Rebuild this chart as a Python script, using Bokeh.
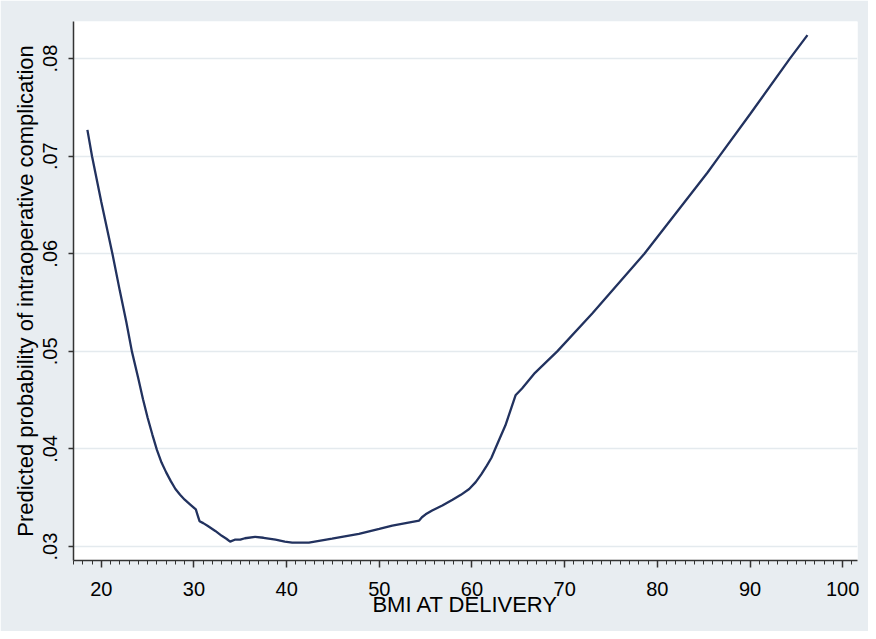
from bokeh.plotting import figure
from bokeh.models import FixedTicker, Range1d
from bokeh.embed import file_html
from bokeh.resources import INLINE

# BMI at delivery (x) and predicted probability (y)
bmi = [18.5, 19.0, 20.0, 21.2, 22.0, 22.7, 23.3, 24.0, 24.5, 25.0, 25.5, 26.0,
       26.5, 27.0, 27.5, 28.0, 28.5, 29.0, 29.6, 30.2, 30.4, 30.6, 31.0, 31.5,
       32.3, 33.0, 33.5, 33.9, 34.4, 35.0, 35.5, 36.6, 37.5, 38.8, 39.8, 40.6,
       42.4, 44.9, 47.8, 50.0, 51.4, 54.3, 54.6, 55.0, 55.7, 56.8, 57.9, 58.8,
       59.7, 60.4, 61.0, 61.6, 62.1, 62.5, 63.0, 63.6, 64.1, 64.7, 65.4, 66.8,
       69.2, 73.0, 78.6, 85.4, 86.7, 90.0, 94.3, 96.2]
prob = [0.0727, 0.0700, 0.0653, 0.0600, 0.0562, 0.0530, 0.0500, 0.0472, 0.0451,
        0.0432, 0.0415, 0.0399, 0.0386, 0.0376, 0.0367, 0.0359, 0.0353, 0.0348,
        0.0343, 0.0338, 0.0332, 0.0326, 0.0324, 0.0321, 0.0316, 0.0311, 0.0308,
        0.0305, 0.0307, 0.0307, 0.03085, 0.0310, 0.0309, 0.0307, 0.0305, 0.0304,
        0.0304, 0.0308, 0.0313, 0.0318, 0.03215, 0.03266, 0.0330, 0.0333, 0.0337,
        0.0342, 0.0348, 0.0353, 0.0359, 0.0366, 0.0374, 0.0383, 0.0391, 0.0400,
        0.0411, 0.0424, 0.0438, 0.0455, 0.0462, 0.0478, 0.0500, 0.0539, 0.0600,
        0.0683, 0.0700, 0.0743, 0.0800, 0.0824]

x_ticks = [20, 30, 40, 50, 60, 70, 80, 90, 100]
x_minor = list(range(17, 102))
y_ticks = [0.03, 0.04, 0.05, 0.06, 0.07, 0.08]
y_tick_labels = [".03", ".04", ".05", ".06", ".07", ".08"]

BG = "#e8edf1"
FONT = "Liberation Sans"

p = figure(width=868, height=631, output_backend="svg", toolbar_location=None,
           x_range=Range1d(17.0, 101.6), y_range=Range1d(0.02857, 0.0838),
           min_border_left=73, min_border_right=11, min_border_top=21,
           min_border_bottom=71)
p.background_fill_color = "white"
p.border_fill_color = BG
p.outline_line_color = None

p.line(bmi, prob, line_color="#22325f", line_width=2.3)

p.xgrid.visible = False
p.ygrid.grid_line_color = "#e4eaee"
p.ygrid.grid_line_width = 1.5

p.xaxis.ticker = FixedTicker(ticks=x_ticks, minor_ticks=x_minor)
p.yaxis.ticker = FixedTicker(ticks=y_ticks, minor_ticks=[])
p.ygrid.ticker = FixedTicker(ticks=y_ticks)
p.yaxis.major_label_overrides = {t: l for t, l in zip(y_ticks, y_tick_labels)}
p.yaxis.major_label_orientation = "vertical"

for ax in (p.xaxis, p.yaxis):
    ax.axis_line_color = "#333333"
    ax.axis_line_width = 1.5
    ax.major_tick_line_color = "#333333"
    ax.major_tick_line_width = 1.5
    ax.minor_tick_line_color = "#333333"
    ax.minor_tick_line_width = 1
    ax.major_tick_in = 0
    ax.minor_tick_in = 0
    ax.major_label_text_font = FONT
    ax.major_label_text_font_size = "20px"
    ax.major_label_text_color = "black"
    ax.axis_label_text_font = FONT
    ax.axis_label_text_font_size = "22px"
    ax.axis_label_text_font_style = "normal"
    ax.axis_label_text_color = "black"

p.xaxis.major_tick_out = 7
p.xaxis.minor_tick_out = 4
p.yaxis.major_tick_out = 5
p.xaxis.major_label_standoff = 14
p.yaxis.major_label_standoff = 11
p.xaxis.axis_label = "BMI AT DELIVERY"
p.yaxis.axis_label = "Predicted probability of intraoperative complication"
p.xaxis.axis_label_standoff = -7
p.yaxis.axis_label_standoff = 3

open("out.html", "w").write(file_html(p, INLINE))
